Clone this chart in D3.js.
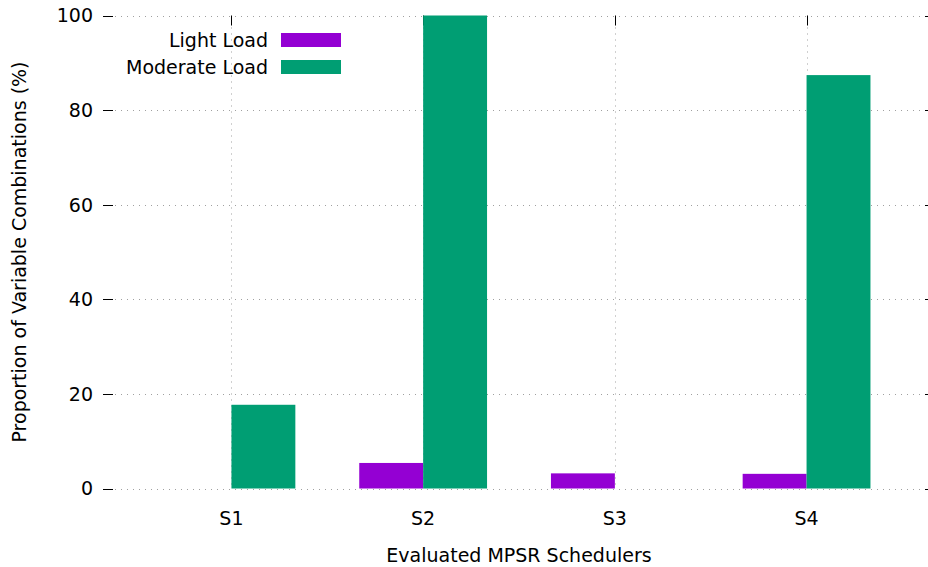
<!DOCTYPE html>
<html>
<head>
<meta charset="utf-8">
<script src="https://cdn.jsdelivr.net/npm/d3@7"></script>
<style>
  html, body { margin: 0; padding: 0; background: #fff; }
  svg { display: block; }
  text { font-family: "DejaVu Sans", Verdana, sans-serif; fill: #000; }
</style>
</head>
<body>
<svg id="chart" width="928" height="567"></svg>
<script>
// ---- data ----
const categories = ["S1", "S2", "S3", "S4"];
const seriesNames = ["Light Load", "Moderate Load"];
const lightLoad = [0, 5.4, 3.2, 3.1];
const moderateLoad = [17.7, 100, 0, 87.4];
const yTicks = [0, 20, 40, 60, 80, 100];
const colors = ["#9400d3", "#009e73"];
const xLabel = "Evaluated MPSR Schedulers";
const yLabel = "Proportion of Variable Combinations (%)";

const svg = d3.select("#chart");
const pL = 103, pR = 935, pT = 15.5, pB = 488.5;
const fontSize = 19;

const x = d3.scaleLinear().domain([-0.67, categories.length - 1 + 0.67]).range([pL, pR]);
const y = d3.scaleLinear().domain([0, 100]).range([pB, pT]);
const barW = 1 / 3;
const snap = v => Math.round(v) + 0.5;

// grid
const grid = svg.append("g").attr("stroke", "#a0a0a0").attr("stroke-width", 1)
  .attr("stroke-dasharray", "1,5");
grid.selectAll(".hg").data(yTicks).join("line")
  .attr("x1", pL + 12).attr("x2", pR - 12)
  .attr("y1", d => snap(y(d))).attr("y2", d => snap(y(d)));
grid.selectAll(".vg").data(categories).join("line")
  .attr("x1", (d, i) => snap(x(i))).attr("x2", (d, i) => snap(x(i)))
  .attr("y1", pT + 12).attr("y2", pB);

// ticks
const ticks = svg.append("g").attr("stroke", "#000").attr("stroke-width", 1);
ticks.selectAll(".lt").data(yTicks).join("line")
  .attr("x1", pL).attr("x2", pL + 10)
  .attr("y1", d => snap(y(d))).attr("y2", d => snap(y(d)));
ticks.selectAll(".rt").data(yTicks).join("line")
  .attr("x1", pR - 10).attr("x2", pR)
  .attr("y1", d => snap(y(d))).attr("y2", d => snap(y(d)));
ticks.selectAll(".tt").data(categories).join("line")
  .attr("x1", (d, i) => snap(x(i))).attr("x2", (d, i) => snap(x(i)))
  .attr("y1", pT).attr("y2", pT + 10);

// bars
const seriesData = [lightLoad, moderateLoad];
seriesData.forEach((vals, s) => {
  svg.append("g").selectAll("rect").data(vals).join("rect")
    .attr("x", (d, i) => x(i + (s - 1) * barW))
    .attr("width", x(barW) - x(0))
    .attr("y", d => y(d))
    .attr("height", d => y(0) - y(d))
    .attr("fill", colors[s]);
});

// y tick labels
svg.append("g").selectAll("text").data(yTicks).join("text")
  .attr("x", 93).attr("y", d => y(d))
  .attr("dy", "0.36em")
  .attr("text-anchor", "end")
  .attr("font-size", fontSize)
  .text(d => d);

// x tick labels
svg.append("g").selectAll("text").data(categories).join("text")
  .attr("x", (d, i) => x(i)).attr("y", 525)
  .attr("text-anchor", "middle")
  .attr("font-size", fontSize)
  .text(d => d);

// axis labels
svg.append("text").attr("x", (pL + pR) / 2).attr("y", 562)
  .attr("text-anchor", "middle").attr("font-size", fontSize).text(xLabel);
svg.append("text")
  .attr("transform", `translate(26,${(pT + pB) / 2}) rotate(-90)`)
  .attr("text-anchor", "middle").attr("font-size", fontSize).text(yLabel);

// legend
const legend = svg.append("g");
seriesNames.forEach((name, s) => {
  const cy = 40 + s * 27;
  legend.append("text").attr("x", 268).attr("y", cy).attr("dy", "0.36em")
    .attr("text-anchor", "end").attr("font-size", fontSize).text(name);
  legend.append("rect").attr("x", 281).attr("y", cy - 7).attr("width", 60).attr("height", 14)
    .attr("fill", colors[s]);
});
</script>
</body>
</html>
